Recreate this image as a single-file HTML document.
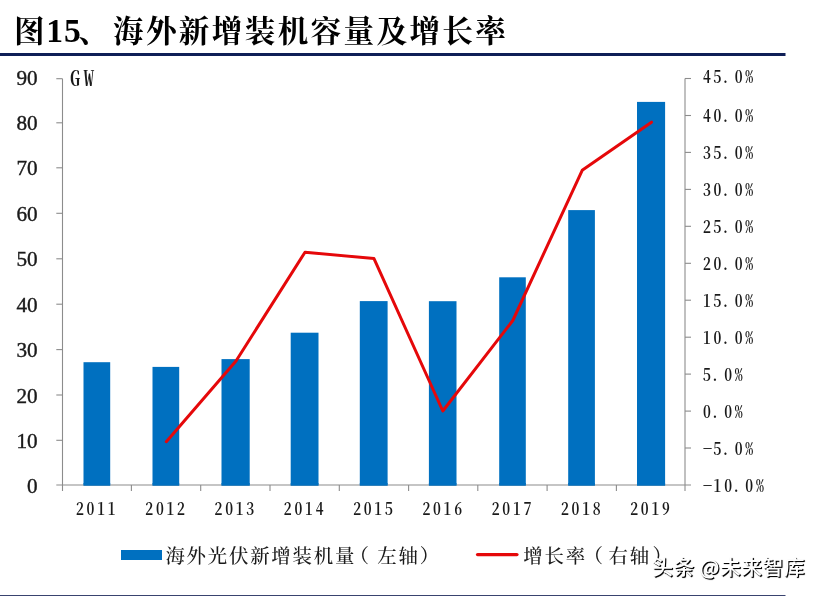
<!DOCTYPE html>
<html lang="zh-CN"><head><meta charset="utf-8"><title>图15、海外新增装机容量及增长率</title>
<style>
html,body{margin:0;padding:0;background:#fff}
body{width:821px;height:596px;overflow:hidden;position:relative}
svg{display:block;position:absolute;left:0;top:0}
.wm{position:absolute;left:652.6px;top:550.6px;word-spacing:-1px;letter-spacing:.75px;font:500 20.5px/30px 'Noto Sans CJK SC','Liberation Sans',sans-serif;color:#fff;white-space:nowrap;text-shadow:1px 1px 1px #000,1px 1px 0 #222}
</style></head>
<body>
<svg width="821" height="596" viewBox="0 0 821 596">
<rect width="821" height="596" fill="#fff"/>
<text y="41.9" font-size="30.6" font-weight="700" fill="#000" style="font-family:'Liberation Serif','Noto Serif CJK SC',serif"><tspan x="14.0">图</tspan><tspan x="46.3" font-size="33.6" letter-spacing="0.9">15</tspan><tspan x="78.4">、</tspan><tspan x="113.0" letter-spacing="2.34">海外新增装机容量及增长率</tspan></text>
<rect x="0" y="53" width="785.5" height="3" fill="#0f1f57"/>
<rect x="0" y="595" width="785.5" height="1" fill="#39436f"/>
<rect x="83.50" y="362.20" width="26.70" height="123.40" fill="#0070c0"/>
<rect x="152.50" y="366.90" width="26.70" height="118.70" fill="#0070c0"/>
<rect x="221.50" y="359.10" width="28.20" height="126.50" fill="#0070c0"/>
<rect x="290.70" y="332.70" width="27.80" height="152.90" fill="#0070c0"/>
<rect x="359.80" y="301.10" width="27.80" height="184.50" fill="#0070c0"/>
<rect x="428.90" y="301.20" width="27.60" height="184.40" fill="#0070c0"/>
<rect x="499.20" y="277.30" width="26.60" height="208.30" fill="#0070c0"/>
<rect x="568.20" y="210.10" width="26.70" height="275.50" fill="#0070c0"/>
<rect x="637.00" y="101.90" width="28.10" height="383.70" fill="#0070c0"/>
<g stroke="#8c8c8c" stroke-width="1.1" fill="none"><path d="M62.5 78.7V491.0"/><path d="M685.0 78.5V491.0"/><path d="M56.3 485.0H691.0"/><path d="M56.3 78.7H62.5"/><path d="M56.3 122.8H62.5"/><path d="M56.3 167.8H62.5"/><path d="M56.3 213.3H62.5"/><path d="M56.3 258.8H62.5"/><path d="M56.3 304.2H62.5"/><path d="M56.3 349.6H62.5"/><path d="M56.3 395.0H62.5"/><path d="M56.3 440.3H62.5"/><path d="M685.0 448.0H691.0"/><path d="M685.0 411.1H691.0"/><path d="M685.0 374.1H691.0"/><path d="M685.0 337.2H691.0"/><path d="M685.0 300.2H691.0"/><path d="M685.0 263.3H691.0"/><path d="M685.0 226.3H691.0"/><path d="M685.0 189.4H691.0"/><path d="M685.0 152.4H691.0"/><path d="M685.0 115.5H691.0"/><path d="M685.0 78.5H691.0"/><path d="M131.4 485.0V491.0"/><path d="M200.7 485.0V491.0"/><path d="M270.0 485.0V491.0"/><path d="M339.3 485.0V491.0"/><path d="M408.6 485.0V491.0"/><path d="M477.8 485.0V491.0"/><path d="M547.1 485.0V491.0"/><path d="M616.4 485.0V491.0"/></g>
<rect x="83.50" y="483.00" width="26.70" height="2.60" fill="#0070c0"/>
<rect x="152.50" y="483.00" width="26.70" height="2.60" fill="#0070c0"/>
<rect x="221.50" y="483.00" width="28.20" height="2.60" fill="#0070c0"/>
<rect x="290.70" y="483.00" width="27.80" height="2.60" fill="#0070c0"/>
<rect x="359.80" y="483.00" width="27.80" height="2.60" fill="#0070c0"/>
<rect x="428.90" y="483.00" width="27.60" height="2.60" fill="#0070c0"/>
<rect x="499.20" y="483.00" width="26.60" height="2.60" fill="#0070c0"/>
<rect x="568.20" y="483.00" width="26.70" height="2.60" fill="#0070c0"/>
<rect x="637.00" y="483.00" width="28.10" height="2.60" fill="#0070c0"/>
<polyline fill="none" stroke="#e5080a" stroke-width="3" stroke-linejoin="round" stroke-linecap="round" points="166.3,441.7 236.0,361.0 305.0,252.2 374.0,258.6 442.8,411.0 512.8,320.5 582.2,170.3 651.5,122.2"/>
<text x="37.7" y="84.7" text-anchor="end" font-size="21.2" fill="#1a1a1a" stroke="#1a1a1a" stroke-width="0.4" style="font-family:'Liberation Serif',serif">90</text>
<text x="37.7" y="130.3" text-anchor="end" font-size="21.2" fill="#1a1a1a" stroke="#1a1a1a" stroke-width="0.4" style="font-family:'Liberation Serif',serif">80</text>
<text x="37.7" y="175.3" text-anchor="end" font-size="21.2" fill="#1a1a1a" stroke="#1a1a1a" stroke-width="0.4" style="font-family:'Liberation Serif',serif">70</text>
<text x="37.7" y="220.8" text-anchor="end" font-size="21.2" fill="#1a1a1a" stroke="#1a1a1a" stroke-width="0.4" style="font-family:'Liberation Serif',serif">60</text>
<text x="37.7" y="266.3" text-anchor="end" font-size="21.2" fill="#1a1a1a" stroke="#1a1a1a" stroke-width="0.4" style="font-family:'Liberation Serif',serif">50</text>
<text x="37.7" y="311.7" text-anchor="end" font-size="21.2" fill="#1a1a1a" stroke="#1a1a1a" stroke-width="0.4" style="font-family:'Liberation Serif',serif">40</text>
<text x="37.7" y="357.1" text-anchor="end" font-size="21.2" fill="#1a1a1a" stroke="#1a1a1a" stroke-width="0.4" style="font-family:'Liberation Serif',serif">30</text>
<text x="37.7" y="402.5" text-anchor="end" font-size="21.2" fill="#1a1a1a" stroke="#1a1a1a" stroke-width="0.4" style="font-family:'Liberation Serif',serif">20</text>
<text x="37.7" y="447.8" text-anchor="end" font-size="21.2" fill="#1a1a1a" stroke="#1a1a1a" stroke-width="0.4" style="font-family:'Liberation Serif',serif">10</text>
<text x="37.7" y="492.5" text-anchor="end" font-size="21.2" fill="#1a1a1a" stroke="#1a1a1a" stroke-width="0.4" style="font-family:'Liberation Serif',serif">0</text>
<text style="font-family:'Noto Serif CJK SC','Liberation Serif',serif;font-feature-settings:'hwid'" font-weight="600" font-size="21.4" fill="#1a1a1a" y="86.3" x="69.8 83.6">GW</text>
<text style="font-family:'Noto Serif CJK SC','Liberation Serif',serif;font-feature-settings:'hwid'" font-weight="600" font-size="17.5" fill="#1a1a1a" transform="scale(0.9,1)" y="491.80" x="780.89 792.85 804.62 813.51 828.18 839.96"><tspan textLength="10.67" lengthAdjust="spacingAndGlyphs">-</tspan>10.0%</text>
<text style="font-family:'Noto Serif CJK SC','Liberation Serif',serif;font-feature-settings:'hwid'" font-weight="600" font-size="17.5" fill="#1a1a1a" transform="scale(0.9,1)" y="454.85" x="780.89 792.85 801.74 816.40 828.18"><tspan textLength="10.67" lengthAdjust="spacingAndGlyphs">-</tspan>5.0%</text>
<text style="font-family:'Noto Serif CJK SC','Liberation Serif',serif;font-feature-settings:'hwid'" font-weight="600" font-size="17.5" fill="#1a1a1a" transform="scale(0.9,1)" y="417.89" x="781.07 789.96 804.62 816.40">0.0%</text>
<text style="font-family:'Noto Serif CJK SC','Liberation Serif',serif;font-feature-settings:'hwid'" font-weight="600" font-size="17.5" fill="#1a1a1a" transform="scale(0.9,1)" y="380.94" x="781.07 789.96 804.62 816.40">5.0%</text>
<text style="font-family:'Noto Serif CJK SC','Liberation Serif',serif;font-feature-settings:'hwid'" font-weight="600" font-size="17.5" fill="#1a1a1a" transform="scale(0.9,1)" y="343.98" x="781.07 792.85 801.74 816.40 828.18">10.0%</text>
<text style="font-family:'Noto Serif CJK SC','Liberation Serif',serif;font-feature-settings:'hwid'" font-weight="600" font-size="17.5" fill="#1a1a1a" transform="scale(0.9,1)" y="307.03" x="781.07 792.85 801.74 816.40 828.18">15.0%</text>
<text style="font-family:'Noto Serif CJK SC','Liberation Serif',serif;font-feature-settings:'hwid'" font-weight="600" font-size="17.5" fill="#1a1a1a" transform="scale(0.9,1)" y="270.07" x="781.07 792.85 801.74 816.40 828.18">20.0%</text>
<text style="font-family:'Noto Serif CJK SC','Liberation Serif',serif;font-feature-settings:'hwid'" font-weight="600" font-size="17.5" fill="#1a1a1a" transform="scale(0.9,1)" y="233.12" x="781.07 792.85 801.74 816.40 828.18">25.0%</text>
<text style="font-family:'Noto Serif CJK SC','Liberation Serif',serif;font-feature-settings:'hwid'" font-weight="600" font-size="17.5" fill="#1a1a1a" transform="scale(0.9,1)" y="196.16" x="781.07 792.85 801.74 816.40 828.18">30.0%</text>
<text style="font-family:'Noto Serif CJK SC','Liberation Serif',serif;font-feature-settings:'hwid'" font-weight="600" font-size="17.5" fill="#1a1a1a" transform="scale(0.9,1)" y="159.21" x="781.07 792.85 801.74 816.40 828.18">35.0%</text>
<text style="font-family:'Noto Serif CJK SC','Liberation Serif',serif;font-feature-settings:'hwid'" font-weight="600" font-size="17.5" fill="#1a1a1a" transform="scale(0.9,1)" y="122.25" x="781.07 792.85 801.74 816.40 828.18">40.0%</text>
<text style="font-family:'Noto Serif CJK SC','Liberation Serif',serif;font-feature-settings:'hwid'" font-weight="600" font-size="17.5" fill="#1a1a1a" transform="scale(0.9,1)" y="82.90" x="781.07 792.85 801.74 816.40 828.18">45.0%</text>
<text style="font-family:'Noto Serif CJK SC','Liberation Serif',serif;font-feature-settings:'hwid'" font-weight="600" font-size="17.5" fill="#1a1a1a" transform="scale(0.9,1)" y="515.20" x="84.46 96.24 108.01 119.79">2011</text>
<text style="font-family:'Noto Serif CJK SC','Liberation Serif',serif;font-feature-settings:'hwid'" font-weight="600" font-size="17.5" fill="#1a1a1a" transform="scale(0.9,1)" y="515.20" x="161.44 173.21 184.99 196.77">2012</text>
<text style="font-family:'Noto Serif CJK SC','Liberation Serif',serif;font-feature-settings:'hwid'" font-weight="600" font-size="17.5" fill="#1a1a1a" transform="scale(0.9,1)" y="515.20" x="238.41 250.19 261.97 273.75">2013</text>
<text style="font-family:'Noto Serif CJK SC','Liberation Serif',serif;font-feature-settings:'hwid'" font-weight="600" font-size="17.5" fill="#1a1a1a" transform="scale(0.9,1)" y="515.20" x="315.39 327.17 338.95 350.73">2014</text>
<text style="font-family:'Noto Serif CJK SC','Liberation Serif',serif;font-feature-settings:'hwid'" font-weight="600" font-size="17.5" fill="#1a1a1a" transform="scale(0.9,1)" y="515.20" x="392.37 404.15 415.93 427.70">2015</text>
<text style="font-family:'Noto Serif CJK SC','Liberation Serif',serif;font-feature-settings:'hwid'" font-weight="600" font-size="17.5" fill="#1a1a1a" transform="scale(0.9,1)" y="515.20" x="469.35 481.13 492.90 504.68">2016</text>
<text style="font-family:'Noto Serif CJK SC','Liberation Serif',serif;font-feature-settings:'hwid'" font-weight="600" font-size="17.5" fill="#1a1a1a" transform="scale(0.9,1)" y="515.20" x="546.33 558.10 569.88 581.66">2017</text>
<text style="font-family:'Noto Serif CJK SC','Liberation Serif',serif;font-feature-settings:'hwid'" font-weight="600" font-size="17.5" fill="#1a1a1a" transform="scale(0.9,1)" y="515.20" x="623.30 635.08 646.86 658.64">2018</text>
<text style="font-family:'Noto Serif CJK SC','Liberation Serif',serif;font-feature-settings:'hwid'" font-weight="600" font-size="17.5" fill="#1a1a1a" transform="scale(0.9,1)" y="515.20" x="700.28 712.06 723.84 735.61">2019</text>
<rect x="121" y="550" width="41" height="10" fill="#0070c0"/>
<text x="165.40" y="562.6" font-size="19.4" letter-spacing="1.80" font-weight="500" fill="#1a1a1a" style="font-family:'Liberation Serif','Noto Serif CJK SC',serif">海外光伏新增装机量<tspan dx="-6.5">（</tspan><tspan dx="6.5">左轴）</tspan></text>
<path d="M477.6 554.6H516.9" stroke="#e5080a" stroke-width="3.4" stroke-linecap="round" fill="none"/>
<text x="523.30" y="562.6" font-size="19.4" letter-spacing="1.80" font-weight="500" fill="#1a1a1a" style="font-family:'Liberation Serif','Noto Serif CJK SC',serif">增长率<tspan dx="-3.5">（</tspan><tspan dx="4">右轴</tspan><tspan dx="1.5">）</tspan></text>
</svg>
<div class="wm">头条 @未来智库</div>
</body></html>
